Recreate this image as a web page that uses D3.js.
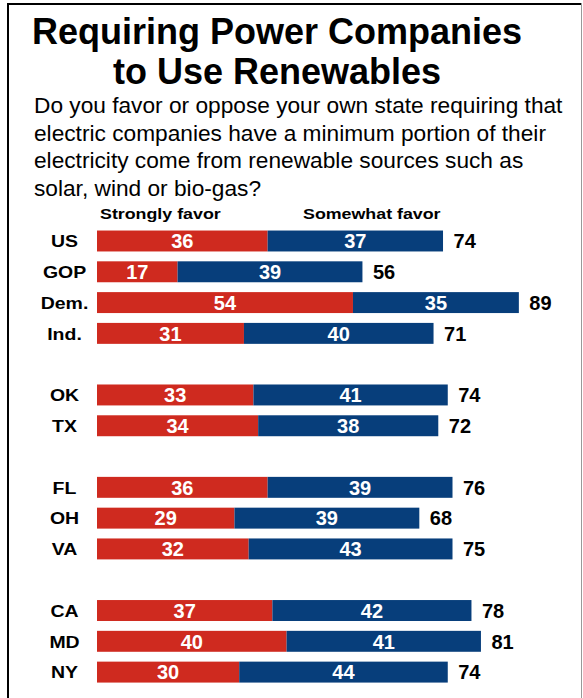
<!DOCTYPE html>
<html>
<head>
<meta charset="utf-8">
<script src="https://cdn.jsdelivr.net/npm/d3@7"></script>
<style>
  html, body { margin: 0; padding: 0; background: #fff; }
  svg { display: block; }
  text { font-family: "Liberation Sans", Arial, Helvetica, sans-serif; }
</style>
</head>
<body>
<script>
// ---- Data ----
const categories = ["US", "GOP", "Dem.", "Ind.", "OK", "TX", "FL", "OH", "VA", "CA", "MD", "NY"];
const groupOf    = [0, 0, 0, 0, 1, 1, 2, 2, 2, 3, 3, 3];
const stronglyFavor = [36, 17, 54, 31, 33, 34, 36, 29, 32, 37, 40, 30];
const somewhatFavor = [37, 39, 35, 40, 41, 38, 39, 39, 43, 42, 41, 44];
const totalFavor    = [74, 56, 89, 71, 74, 72, 76, 68, 75, 78, 81, 74];
const seriesNames = ["Strongly favor", "Somewhat favor"];
const titleLines = ["Requiring Power Companies", "to Use Renewables"];
const subtitleLines = [
  "Do you favor or oppose your own state requiring that",
  "electric companies have a minimum portion of their",
  "electricity come from renewable sources such as",
  "solar, wind or bio-gas?"
];

// ---- Layout ----
const W = 583, H = 698;
const RED = "#cf2a1f", BLUE = "#073e7b";

const svg = d3.select("body").append("svg").attr("width", W).attr("height", H);

// frame
svg.append("line").attr("x1", 8).attr("x2", 8).attr("y1", 3).attr("y2", H).attr("stroke", "#000").attr("stroke-width", 2);
svg.append("line").attr("x1", 7).attr("x2", 582).attr("y1", 4).attr("y2", 4).attr("stroke", "#000").attr("stroke-width", 2);
svg.append("line").attr("x1", 581.5).attr("x2", 581.5).attr("y1", 3).attr("y2", H).attr("stroke", "#999").attr("stroke-width", 1);

// title
svg.append("g").selectAll("text").data(titleLines).join("text")
  .attr("x", 277).attr("y", (d, i) => 44 + i * 40)
  .attr("text-anchor", "middle")
  .attr("font-size", 36).attr("font-weight", "bold").attr("fill", "#000")
  .text(d => d);

// subtitle
svg.append("g").selectAll("text").data(subtitleLines).join("text")
  .attr("x", 34).attr("y", (d, i) => 113 + i * 27.7)
  .attr("font-size", 22.7).attr("fill", "#000")
  .text(d => d);

// slot domain with spacers between groups
const slots = [];
categories.forEach((c, i) => {
  if (i > 0 && groupOf[i] !== groupOf[i - 1]) slots.push("__gap" + i);
  slots.push(c);
});

const y = d3.scaleBand().domain(slots).range([225.6, 687.5]).paddingInner(0.32).paddingOuter(0.16);
const x = d3.scaleLinear().domain([0, 100]).range([97, 571]);

const rows = categories.map((c, i) => ({
  cat: c, s: stronglyFavor[i], w: somewhatFavor[i], t: totalFavor[i]
}));

// series headers
svg.append("g").selectAll("text").data(seriesNames).join("text")
  .attr("transform", (d, i) => `translate(${i === 0 ? 100 : 303},218.5) scale(1.15,1)`)
  .attr("font-size", 15.5).attr("font-weight", "bold").attr("fill", "#000")
  .text(d => d);

const g = svg.append("g").selectAll("g").data(rows).join("g");

g.append("rect")
  .attr("x", x(0)).attr("y", d => y(d.cat))
  .attr("width", d => x(d.s) - x(0)).attr("height", y.bandwidth())
  .attr("fill", RED);
g.append("rect")
  .attr("x", d => x(d.s)).attr("y", d => y(d.cat))
  .attr("width", d => x(d.s + d.w) - x(d.s)).attr("height", y.bandwidth())
  .attr("fill", BLUE);

const mid = d => y(d.cat) + y.bandwidth() / 2;

g.append("text")
  .attr("x", d => (x(0) + x(d.s)) / 2).attr("y", d => mid(d) + 7.3)
  .attr("text-anchor", "middle").attr("font-size", 20).attr("font-weight", "bold").attr("fill", "#fff")
  .text(d => d.s);
g.append("text")
  .attr("x", d => (x(d.s) + x(d.s + d.w)) / 2).attr("y", d => mid(d) + 7.3)
  .attr("text-anchor", "middle").attr("font-size", 20).attr("font-weight", "bold").attr("fill", "#fff")
  .text(d => d.w);
g.append("text")
  .attr("x", d => x(d.s + d.w) + 10.5).attr("y", d => mid(d) + 7.3)
  .attr("font-size", 20).attr("font-weight", "bold").attr("fill", "#000")
  .text(d => d.t);
g.append("text")
  .attr("transform", d => `translate(64.5,${mid(d) + 6.2}) scale(1.18,1)`)
  .attr("text-anchor", "middle").attr("font-size", 16.5).attr("font-weight", "bold").attr("fill", "#000")
  .text(d => d.cat);
</script>
</body>
</html>
